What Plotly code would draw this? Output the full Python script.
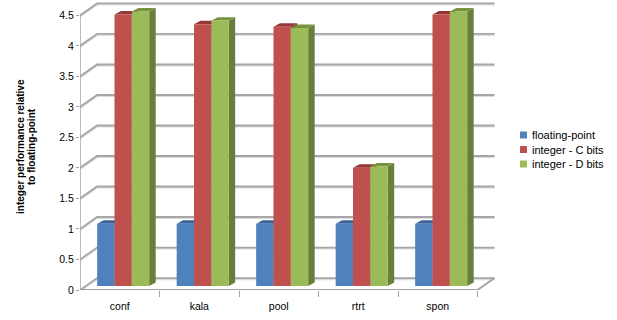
import plotly.graph_objects as go

# ---------------- data ----------------
categories = ["conf", "kala", "pool", "rtrt", "spon"]
floating_point = [1.02, 1.02, 1.02, 1.02, 1.02]
integer_c_bits = [4.45, 4.29, 4.25, 1.94, 4.45]
integer_d_bits = [4.50, 4.35, 4.23, 1.96, 4.50]
series_names = ["floating-point", "integer - C bits", "integer - D bits"]
y_tick_values = [0, 0.5, 1, 1.5, 2, 2.5, 3, 3.5, 4, 4.5]
y_tick_labels = ["0", "0.5", "1", "1.5", "2", "2.5", "3", "3.5", "4", "4.5"]
y_title_lines = ["integer performance relative", "to floating-point"]

# ---------------- style / geometry ----------------
W, H = 617, 320
ML, MR, MT, MB = 80, 117, 2, 30
X_RANGE = [-0.5, 4.783]
Y_RANGE = [0, 4.72]
FRONT = ["#4F81BD", "#C0504D", "#9BBB59"]
TOP = ["#3B649B", "#953735", "#77933C"]
SIDE = ["#385D8A", "#8C3836", "#687F3B"]
BAR_W = 0.218
OFFSETS = [-0.284, -0.066, 0.152]
BASE = 0.065
DX, DY = 0.082, 0.057          # bar depth
WDX, WDY = 0.214, 0.196        # wall depth
WALL_RIGHT = 4.714
GRID = "#a6a6a6"
FONT = "Liberation Sans"

fig = go.Figure()

# back-wall gridlines
gx, gy, sx, sy = [], [], [], []
for v in y_tick_values:
    gx += [-0.5, -0.5 + WDX, WALL_RIGHT, None]
    gy += [v, v + WDY, v + WDY, None]
    sx += [-0.5, -0.5 + WDX, WALL_RIGHT, None]
    sy += [v - 0.022, v + WDY - 0.022, v + WDY - 0.022, None]
fig.add_trace(go.Scatter(x=sx, y=sy, mode="lines", line=dict(color="#dcdcdc", width=1.5),
                         hoverinfo="skip", showlegend=False, cliponaxis=False))
fig.add_trace(go.Scatter(x=gx, y=gy, mode="lines", line=dict(color=GRID, width=1.8),
                         hoverinfo="skip", showlegend=False, cliponaxis=False))

# left axis line
fig.add_trace(go.Scatter(x=[-0.5, -0.5], y=[0, y_tick_values[-1]], mode="lines",
                         line=dict(color=GRID, width=1.5), hoverinfo="skip",
                         showlegend=False, cliponaxis=False))

# 3D bars
all_series = [floating_point, integer_c_bits, integer_d_bits]
for s, values in enumerate(all_series):
    fx, fy, tx, ty, qx, qy = [], [], [], [], [], []
    for i, v in enumerate(values):
        x0 = i + OFFSETS[s]
        x1 = x0 + BAR_W
        y0 = BASE
        y1 = BASE + v
        fx += [x0, x1, x1, x0, x0, None]
        fy += [y0, y0, y1, y1, y0, None]
        tx += [x0, x1, x1 + DX, x0 + DX, x0, None]
        ty += [y1, y1, y1 + DY, y1 + DY, y1, None]
        qx += [x1, x1 + DX, x1 + DX, x1, x1, None]
        qy += [y0, y0 + DY, y1 + DY, y1, y0, None]
    fig.add_trace(go.Scatter(x=qx, y=qy, mode="lines", fill="toself", fillcolor=SIDE[s],
                             line=dict(width=0, color=SIDE[s]), hoverinfo="skip",
                             showlegend=False, cliponaxis=False))
    fig.add_trace(go.Scatter(x=tx, y=ty, mode="lines", fill="toself", fillcolor=TOP[s],
                             line=dict(width=0, color=TOP[s]), hoverinfo="skip",
                             showlegend=False, cliponaxis=False))
    fig.add_trace(go.Scatter(x=fx, y=fy, mode="lines", fill="toself", fillcolor=FRONT[s],
                             line=dict(width=0, color=FRONT[s]), name=series_names[s],
                             hoverinfo="skip", showlegend=False, cliponaxis=False))

# floor front edge
n = len(categories)
fig.add_trace(go.Scatter(x=[-0.5, n - 0.5, n - 0.5 + WDX], y=[0, 0, WDY], mode="lines",
                         line=dict(color="#a0a0a0", width=1.8), hoverinfo="skip",
                         showlegend=False, cliponaxis=False))

fig.update_layout(
    width=W, height=H,
    margin=dict(l=ML, r=MR, t=MT, b=MB),
    paper_bgcolor="white", plot_bgcolor="white",
    showlegend=False,
    font=dict(family=FONT, size=10.5, color="black"),
)
fig.update_xaxes(
    range=X_RANGE, showgrid=False, zeroline=False, showline=False,
    tickmode="array", tickvals=list(range(n)), ticktext=categories,
    ticks="", ticklabelstandoff=8,
    tickfont=dict(family=FONT, size=10.5, color="black"),
    minor=dict(tickmode="array", tickvals=[i + 0.5 for i in range(n)],
               ticks="outside", ticklen=6, tickcolor="#a0a0a0", tickwidth=1),
)
fig.update_yaxes(
    range=Y_RANGE, showgrid=False, zeroline=False, showline=False,
    tickmode="array", tickvals=y_tick_values, ticktext=y_tick_labels,
    ticks="outside", ticklen=3, tickcolor="#a0a0a0",
    tickfont=dict(family=FONT, size=10.5, color="black"),
)

plot_w = W - ML - MR
plot_h = H - MT - MB


def px_x(p):
    return (p - ML) / plot_w


def px_y(p):
    return (H - MB - p) / plot_h


# y-axis title (two lines)
for k, (line, xpx) in enumerate(zip(y_title_lines, [20, 31])):
    fig.add_annotation(text="<b>%s</b>" % line, xref="paper", yref="paper",
                       x=px_x(xpx), y=px_y(147), textangle=-90, showarrow=False,
                       xanchor="center", yanchor="middle",
                       font=dict(family=FONT, size=10, color="black"))

# legend
for s, name in enumerate(series_names):
    cy = 135 + s * 14.5
    fig.add_shape(type="rect", xref="paper", yref="paper",
                  x0=px_x(520), x1=px_x(527), y0=px_y(cy + 3.5), y1=px_y(cy - 3.5),
                  fillcolor=FRONT[s], line=dict(width=0))
    fig.add_annotation(text=name, xref="paper", yref="paper", x=px_x(530), y=px_y(cy),
                       xanchor="left", yanchor="middle", showarrow=False,
                       font=dict(family=FONT, size=11, color="black"))

fig.write_html("out.html")
